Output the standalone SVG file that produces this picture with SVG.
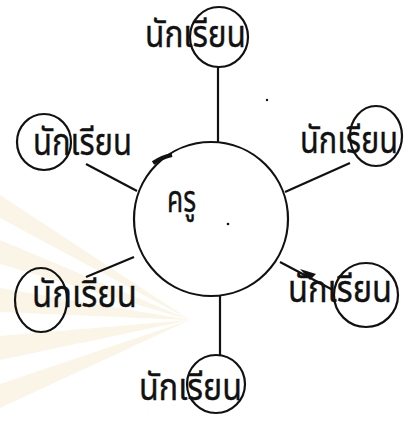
<svg xmlns="http://www.w3.org/2000/svg" width="413" height="425" viewBox="0 0 413 425">
<style>
.t{font-family:"Noto Sans Thai","Noto Sans","DejaVu Sans",sans-serif;font-size:38px;fill:#111;stroke:#111;stroke-width:0.4}
.c{fill:none;stroke:#111;stroke-width:2.2}
.l{stroke:#111;stroke-width:2.2;fill:none}
</style>
<rect width="413" height="425" fill="#fff"/>
<g id="watermark" fill="#faf5e6">
<polygon points="190,320 0,195 0,218"/>
<polygon points="190,320 0,240 0,264"/>
<polygon points="190,320 0,288 0,312"/>
<polygon points="190,320 0,336 0,360"/>
<polygon points="190,320 0,384 0,408"/>
</g>
<g id="connectors">
<line class="l" x1="218" y1="67" x2="218" y2="142"/>
<line class="l" x1="86" y1="164" x2="137" y2="191"/>
<line class="l" x1="285" y1="192" x2="350" y2="163"/>
<line class="l" x1="134" y1="257" x2="86" y2="277"/>
<line class="l" x1="280" y1="262" x2="333" y2="290"/>
<polygon points="300,269 316,274 310,280" fill="#111"/>
<line class="l" x1="220" y1="296" x2="220" y2="355"/>
</g>
<g id="teacher">
<circle class="c" cx="211" cy="219" r="77"/>
<path d="M153,163 Q162,157 172,155" stroke="#111" stroke-width="4" fill="none"/>
<text class="t" x="167" y="212" textLength="29" lengthAdjust="spacingAndGlyphs">ครู</text>
<circle cx="228" cy="224" r="1.3" fill="#111"/>
</g>
<g id="student-top">
<ellipse class="c" cx="219" cy="37" rx="29" ry="30"/>
<text class="t" x="145" y="47" textLength="101" lengthAdjust="spacingAndGlyphs">นักเรียน</text>
</g>
<g id="student-upper-left">
<ellipse class="c" cx="44" cy="142" rx="27" ry="28"/>
<text class="t" x="33" y="155" textLength="99" lengthAdjust="spacingAndGlyphs">นักเรียน</text>
</g>
<g id="student-upper-right">
<ellipse class="c" cx="376" cy="136" rx="26" ry="30"/>
<text class="t" x="300" y="153" textLength="98" lengthAdjust="spacingAndGlyphs">นักเรียน</text>
</g>
<g id="student-lower-left">
<ellipse class="c" cx="41" cy="300" rx="26" ry="32"/>
<text class="t" x="32" y="307" textLength="105" lengthAdjust="spacingAndGlyphs">นักเรียน</text>
</g>
<g id="student-lower-right">
<ellipse class="c" cx="366" cy="295" rx="32" ry="32"/>
<text class="t" x="288" y="302" textLength="104" lengthAdjust="spacingAndGlyphs">นักเรียน</text>
</g>
<g id="student-bottom">
<ellipse class="c" cx="216" cy="384" rx="29" ry="29"/>
<text class="t" x="139" y="400" textLength="103" lengthAdjust="spacingAndGlyphs">นักเรียน</text>
</g>
<circle cx="267" cy="100" r="1.2" fill="#111"/>
</svg>
